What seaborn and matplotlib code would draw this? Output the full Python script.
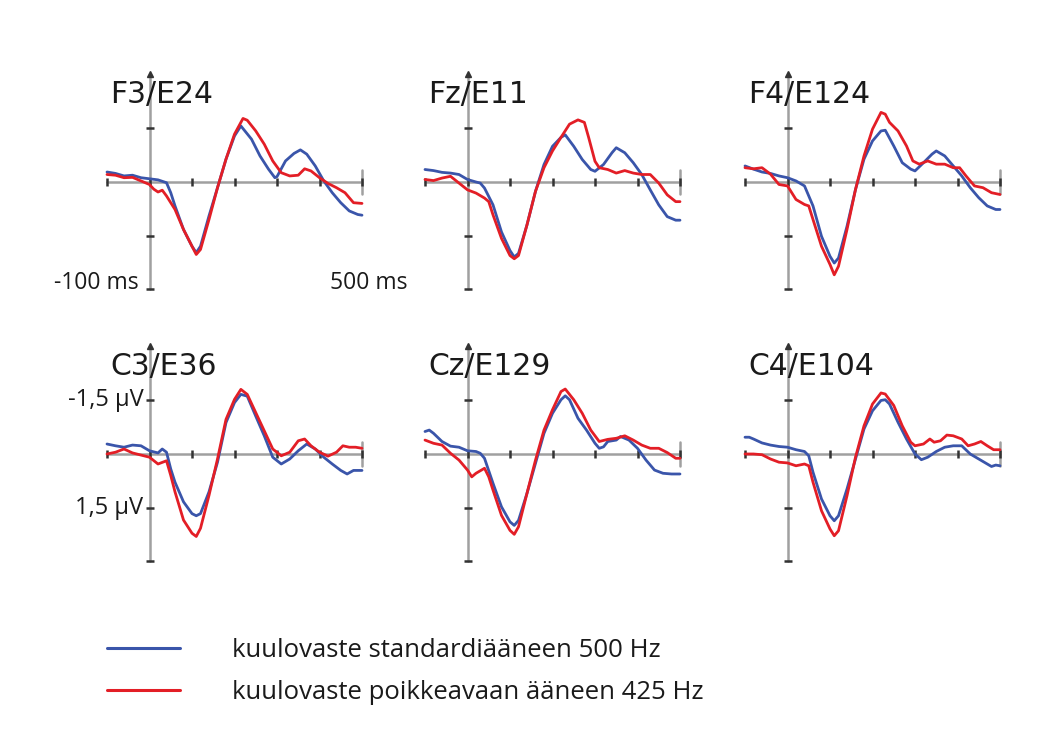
import numpy as np
import pandas as pd
import matplotlib
matplotlib.use("Agg")
import matplotlib.pyplot as plt
import seaborn as sns
from matplotlib.lines import Line2D

# ---------------- data (µV, negative plotted upward) ----------------
electrodes = ["F3/E24", "Fz/E11", "F4/E124", "C3/E36", "Cz/E129", "C4/E104"]
conditions = ["kuulovaste standardiääneen 500 Hz",
              "kuulovaste poikkeavaan ääneen 425 Hz"]

F3_std = [(-100,-0.28),(-80,-0.24),(-60,-0.17),(-40,-0.19),(-20,-0.12),(0,-0.09),(20,-0.06),(30,-0.02),(40,0.02),(50,0.3),(60,0.67),(80,1.33),(100,1.8),(110,1.98),(120,1.8),(140,0.95),(160,0.16),(180,-0.64),(200,-1.29),(215,-1.57),(240,-1.2),(260,-0.73),(280,-0.36),(295,-0.12),(300,-0.15),(320,-0.59),(340,-0.8),(355,-0.9),(370,-0.78),(390,-0.45),(410,-0.03),(430,0.3),(450,0.58),(470,0.81),(490,0.91),(500,0.93)]
F3_dev = [(-100,-0.21),(-80,-0.19),(-60,-0.12),(-40,-0.13),(-20,-0.03),(0,0.07),(10,0.2),(20,0.28),(30,0.23),(40,0.39),(60,0.77),(80,1.33),(100,1.8),(110,2.03),(120,1.89),(140,1.05),(160,0.16),(180,-0.64),(200,-1.34),(220,-1.78),(230,-1.73),(250,-1.43),(270,-1.06),(290,-0.59),(310,-0.26),(330,-0.17),(350,-0.19),(365,-0.37),(380,-0.31),(400,-0.12),(420,0.04),(440,0.16),(460,0.3),(480,0.58),(500,0.6)]
Fz_std = [(-100,-0.35),(-80,-0.32),(-60,-0.27),(-40,-0.25),(-20,-0.21),(0,-0.07),(20,0.0),(30,0.03),(40,0.17),(60,0.64),(80,1.4),(100,1.92),(110,2.1),(120,2.0),(140,1.2),(160,0.26),(180,-0.49),(200,-1.0),(220,-1.25),(230,-1.32),(250,-1.0),(270,-0.63),(290,-0.35),(300,-0.3),(320,-0.49),(340,-0.82),(350,-0.96),(370,-0.82),(390,-0.54),(410,-0.21),(430,0.22),(450,0.64),(470,0.97),(490,1.07),(500,1.07)]
Fz_dev = [(-100,-0.07),(-80,-0.04),(-60,-0.11),(-40,-0.16),(-20,0.03),(0,0.22),(20,0.31),(40,0.45),(50,0.55),(60,0.92),(80,1.58),(100,2.06),(110,2.15),(120,2.06),(140,1.2),(160,0.26),(180,-0.4),(200,-0.87),(220,-1.25),(240,-1.62),(260,-1.74),(275,-1.67),(285,-1.25),(300,-0.58),(310,-0.4),(330,-0.35),(350,-0.25),(370,-0.32),(390,-0.25),(410,-0.21),(430,-0.21),(450,0.03),(470,0.36),(490,0.55),(500,0.55)]
F4_std = [(-100,-0.45),(-80,-0.36),(-60,-0.28),(-40,-0.24),(-20,-0.17),(0,-0.12),(20,-0.03),(40,0.11),(60,0.67),(80,1.52),(100,2.08),(110,2.27),(120,2.13),(140,1.24),(160,0.21),(180,-0.64),(200,-1.15),(220,-1.43),(230,-1.45),(250,-1.01),(270,-0.54),(290,-0.36),(300,-0.31),(320,-0.54),(340,-0.78),(350,-0.87),(370,-0.73),(390,-0.45),(410,-0.17),(430,0.16),(450,0.44),(470,0.67),(490,0.77),(500,0.77)]
F4_dev = [(-100,-0.4),(-80,-0.37),(-60,-0.4),(-40,-0.22),(-20,0.07),(0,0.11),(20,0.49),(40,0.63),(50,0.67),(60,1.05),(80,1.8),(100,2.31),(110,2.6),(120,2.36),(140,1.33),(160,0.21),(180,-0.73),(200,-1.48),(220,-1.95),(230,-1.9),(240,-1.67),(260,-1.43),(280,-1.01),(295,-0.59),(310,-0.5),(330,-0.59),(350,-0.5),(370,-0.5),(390,-0.4),(405,-0.4),(420,-0.17),(440,0.11),(460,0.16),(480,0.3),(500,0.35)]
C3_std = [(-100,-0.28),(-80,-0.23),(-60,-0.19),(-40,-0.25),(-20,-0.23),(0,-0.09),(20,-0.03),(30,-0.14),(40,-0.05),(50,0.42),(60,0.79),(80,1.34),(100,1.67),(110,1.73),(120,1.67),(140,1.06),(160,0.23),(180,-0.88),(200,-1.44),(215,-1.67),(230,-1.62),(250,-1.06),(270,-0.51),(290,0.09),(310,0.28),(330,0.14),(350,-0.09),(370,-0.28),(390,-0.14),(410,0.09),(430,0.28),(450,0.46),(465,0.56),(480,0.46),(500,0.46)]
C3_dev = [(-100,0.0),(-80,-0.05),(-60,-0.14),(-40,-0.03),(-20,0.03),(0,0.09),(20,0.28),(40,0.19),(50,0.6),(60,1.06),(80,1.85),(100,2.22),(110,2.31),(120,2.08),(140,1.16),(160,0.14),(180,-0.97),(200,-1.53),(215,-1.81),(230,-1.67),(250,-1.16),(270,-0.65),(290,-0.14),(310,0.05),(330,-0.05),(350,-0.37),(365,-0.42),(380,-0.23),(400,-0.05),(420,0.06),(440,-0.05),(455,-0.23),(470,-0.19),(485,-0.19),(500,-0.16)]
Cz_std = [(-100,-0.63),(-90,-0.67),(-80,-0.58),(-60,-0.35),(-40,-0.22),(-20,-0.19),(0,-0.09),(20,-0.07),(30,-0.02),(40,0.12),(60,0.82),(80,1.48),(100,1.9),(110,2.0),(120,1.86),(140,1.1),(160,0.26),(180,-0.58),(200,-1.14),(220,-1.52),(230,-1.63),(240,-1.52),(260,-1.0),(280,-0.67),(300,-0.3),(310,-0.16),(320,-0.2),(330,-0.35),(350,-0.39),(360,-0.49),(380,-0.39),(400,-0.16),(420,0.17),(440,0.45),(460,0.54),(480,0.56),(500,0.56)]
Cz_dev = [(-100,-0.39),(-80,-0.3),(-60,-0.25),(-40,-0.02),(-20,0.17),(0,0.45),(10,0.64),(20,0.54),(40,0.4),(50,0.64),(60,1.01),(80,1.72),(100,2.14),(110,2.25),(120,2.04),(140,1.1),(160,0.17),(180,-0.67),(200,-1.24),(220,-1.75),(230,-1.82),(250,-1.52),(270,-1.14),(290,-0.67),(310,-0.35),(330,-0.41),(350,-0.44),(370,-0.51),(390,-0.39),(410,-0.25),(430,-0.16),(450,-0.16),(470,-0.04),(490,0.12),(500,0.12)]
C4_std = [(-100,-0.47),(-90,-0.47),(-80,-0.42),(-60,-0.31),(-40,-0.25),(-20,-0.21),(0,-0.19),(20,-0.12),(40,-0.07),(50,0.05),(60,0.51),(80,1.26),(100,1.73),(110,1.87),(120,1.73),(140,0.98),(160,0.14),(180,-0.7),(200,-1.21),(220,-1.5),(230,-1.52),(240,-1.4),(260,-0.89),(280,-0.42),(300,0.0),(315,0.16),(330,0.09),(350,-0.07),(370,-0.19),(390,-0.23),(410,-0.23),(430,0.0),(450,0.14),(470,0.28),(480,0.35),(490,0.31),(500,0.33)]
C4_dev = [(-100,0.0),(-80,0.0),(-60,0.02),(-40,0.14),(-20,0.23),(0,0.25),(20,0.33),(40,0.28),(50,0.33),(60,0.79),(80,1.59),(100,2.1),(110,2.29),(120,2.15),(140,1.17),(160,0.09),(180,-0.79),(200,-1.4),(220,-1.71),(230,-1.68),(250,-1.36),(270,-0.79),(290,-0.33),(300,-0.23),(320,-0.28),(335,-0.42),(345,-0.33),(360,-0.37),(375,-0.53),(390,-0.51),(410,-0.42),(425,-0.23),(440,-0.28),(455,-0.35),(470,-0.23),(485,-0.12),(500,-0.12)]

series = [(F3_std, F3_dev), (Fz_std, Fz_dev), (F4_std, F4_dev),
          (C3_std, C3_dev), (Cz_std, Cz_dev), (C4_std, C4_dev)]

x_ticks = [-100, 0, 100, 200, 300, 400, 500]
y_ticks = [-1.5, 1.5, 3.0]
y_tick_labels = ["-1,5 µV", "1,5 µV"]
time_labels = ["-100 ms", "500 ms"]

# ---------------- style ----------------
sns.set_theme(style="white")
plt.rcParams["font.family"] = ["DejaVu Sans"]
BLUE = "#3a55aa"
RED = "#e31e26"
AXIS_GRAY = "#a0a0a0"
TICK_DARK = "#333333"
TEXT = "#1a1a1a"
LABEL_FONT = ["Open Sans", "DejaVu Sans"]

W, H = 1057, 751
fig = plt.figure(figsize=(W / 100, H / 100), dpi=100)
fig.patch.set_facecolor("white")

PX_MS = 0.425     # pixels per ms
PX_UV = 35.7      # pixels per µV
XL = (-115, 515)
YLIM = 3.4
col_left = [107, 425, 745]   # pixel x of -100 ms
row_zero = [182, 454]        # pixel y of 0 µV

for i, (name, (std, dev)) in enumerate(zip(electrodes, series)):
    r, c = divmod(i, 3)
    x0 = col_left[c] + (XL[0] + 100) * PX_MS
    w = (XL[1] - XL[0]) * PX_MS
    top = row_zero[r] - YLIM * PX_UV
    h = 2 * YLIM * PX_UV
    ax = fig.add_axes([x0 / W, 1 - (top + h) / H, w / W, h / H])
    ax.set_facecolor("none")

    # axes drawn as lines
    ax.plot([-100, 500], [0, 0], color=AXIS_GRAY, lw=1.8, zorder=1)
    ax.plot([0, 0], [-3.0, 3.0], color=AXIS_GRAY, lw=1.8, zorder=1)
    ax.plot([500, 500], [-0.35, 0.35], color=AXIS_GRAY, lw=1.8, zorder=1)
    ax.plot(x_ticks, [0] * len(x_ticks), ls="none", marker="|", ms=6,
            mew=1.8, color=TICK_DARK, zorder=2)
    ax.plot([0] * len(y_ticks), y_ticks, ls="none", marker="_", ms=6,
            mew=1.8, color=TICK_DARK, zorder=2)
    ax.plot([0], [-3.02], ls="none", marker="^", ms=4, color=TICK_DARK, zorder=2)

    df = pd.concat([
        pd.DataFrame(std, columns=["t", "v"]).assign(cond=conditions[0]),
        pd.DataFrame(dev, columns=["t", "v"]).assign(cond=conditions[1]),
    ])
    sns.lineplot(data=df, x="t", y="v", hue="cond", hue_order=conditions,
                 palette=[BLUE, RED], lw=2.0, ax=ax, legend=False, zorder=3)

    ax.set_xlim(*XL)
    ax.set_ylim(YLIM, -YLIM)
    ax.set_axis_off()

    ax.text(-92, -2.22, name, fontsize=21.5, color=TEXT,
            family=["DejaVu Sans"], ha="left", va="baseline", zorder=4)

    if i == 0:
        ax.text(-26, 2.83, time_labels[0], fontsize=16.5, family=LABEL_FONT,
                color=TEXT, ha="right", va="center")
        ax.text(425, 2.83, time_labels[1], fontsize=16.5, family=LABEL_FONT,
                color=TEXT, ha="left", va="center")
    if i == 3:
        for yv, lab in zip(y_ticks[:2], y_tick_labels):
            ax.text(-14, yv, lab, fontsize=17, family=LABEL_FONT,
                    color=TEXT, ha="right", va="center")

# legend
handles = [Line2D([], [], color=BLUE, lw=2.2), Line2D([], [], color=RED, lw=2.2)]
fig.legend(handles, conditions, loc="upper left",
           bbox_to_anchor=(107 / W, 1 - 638 / H), frameon=False,
           prop={"family": LABEL_FONT, "size": 18.5},
           handlelength=2.84, handletextpad=2.02, labelspacing=0.66,
           borderpad=0, borderaxespad=0, labelcolor=TEXT)

fig.savefig("out.png", dpi=100, facecolor="white")
